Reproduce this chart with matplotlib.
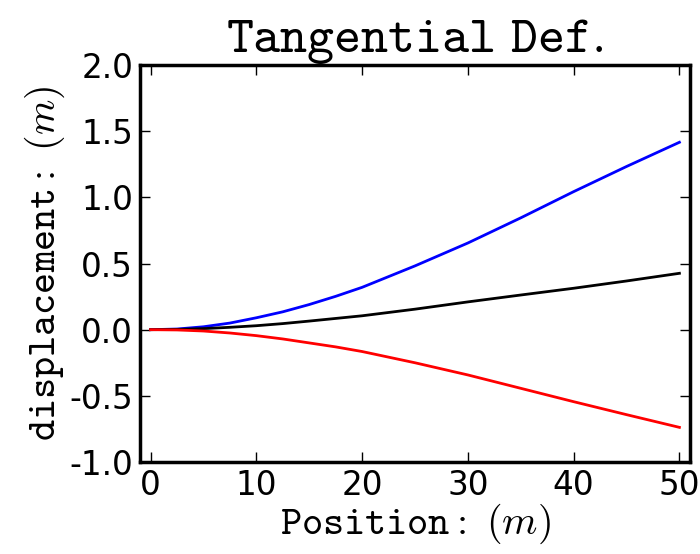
import matplotlib
matplotlib.use("Agg")
import matplotlib.pyplot as plt

plt.rcParams["mathtext.fontset"] = "cm"

position = [0, 2.5, 5, 7.5, 10, 12.5, 15, 17.5, 20, 25, 30, 35, 40, 45, 50]
upper = [0.0, 0.005, 0.022, 0.05, 0.09, 0.135, 0.19, 0.252, 0.32, 0.482, 0.655, 0.845, 1.043, 1.233, 1.416]
middle = [0.0, 0.002, 0.008, 0.018, 0.03, 0.046, 0.065, 0.085, 0.105, 0.155, 0.21, 0.262, 0.313, 0.368, 0.426]
lower = [0.0, -0.002, -0.01, -0.025, -0.045, -0.07, -0.1, -0.13, -0.165, -0.25, -0.342, -0.443, -0.544, -0.642, -0.738]

fig = plt.figure(figsize=(7.0, 5.54), dpi=100)
ax = fig.add_axes([0.2, 0.166, 0.7857, 0.7167])

ax.plot(position, upper, color="blue", lw=2)
ax.plot(position, middle, color="black", lw=2)
ax.plot(position, lower, color="red", lw=2)

ax.set_xlim(-1, 51)
ax.set_ylim(-1.0, 2.0)
ax.set_xticks([0, 10, 20, 30, 40, 50])
ax.set_yticks([-1.0, -0.5, 0.0, 0.5, 1.0, 1.5, 2.0])
ax.set_yticklabels(["-1.0", "-0.5", "0.0", "0.5", "1.0", "1.5", "2.0"])

for spine in ax.spines.values():
	spine.set_linewidth(2.5)
ax.tick_params(direction="in", top=True, right=True, length=7, width=1, labelsize=23.5, pad=5)

ax.set_title(r"$\mathtt{Tangential\ Def.}$", fontsize=37, pad=9)
ax.set_xlabel(r"$\mathtt{Position:}\ (m)$", fontsize=29, labelpad=0)
ax.set_ylabel(r"$\mathtt{displacement:}\ (m)$", fontsize=29, labelpad=2)

fig.savefig("out.png", dpi=100)
